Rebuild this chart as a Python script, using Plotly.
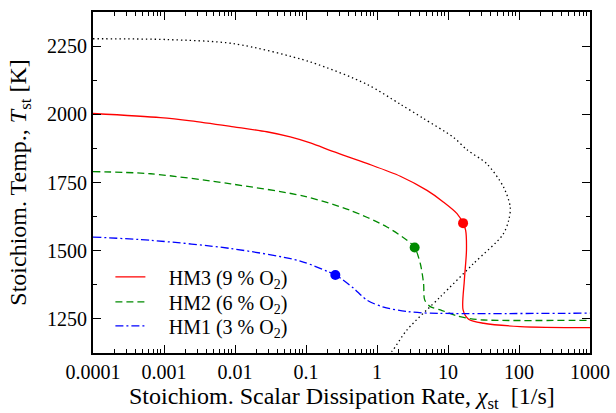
import plotly.graph_objects as go

# ---- data ----
hm3_x = [0.0001, 0.00089, 0.0024, 0.0096, 0.028, 0.06, 0.115, 0.245, 0.72, 2.13, 5.06, 8.67, 13.4, 16.3, 17.7, 18.2, 17.0, 16.3, 19.5, 31.7, 104, 1000]
hm3_y = [2003, 1988, 1976, 1954, 1936, 1917, 1895, 1863, 1820, 1773, 1721, 1678, 1636, 1601, 1575, 1502, 1392, 1283, 1249, 1234, 1222, 1218]

hm2_x = [0.0001, 0.00065, 0.0087, 0.093, 0.42, 1.38, 2.65, 3.39, 4.07, 4.53, 4.7, 5.63, 7.8, 13.4, 18.2, 31.7, 1000]
hm2_y = [1790, 1782, 1745, 1700, 1648, 1587, 1538, 1512, 1453, 1380, 1319, 1295, 1283, 1261, 1253, 1246, 1245]

hm1_x = [0.0001, 0.00065, 0.0087, 0.083, 0.259, 0.307, 0.47, 0.72, 1.24, 2.65, 5.6, 1000]
hm1_y = [1550, 1538, 1508, 1462, 1411, 1399, 1362, 1319, 1293, 1277, 1271, 1271]

ref_x = [0.0001, 0.0011, 0.0096, 0.115, 0.72, 2.13, 4.5, 12, 18.5, 35.4, 60.7, 75.3, 71.5, 59, 22.9, 7.8, 2.65, 1.62, 1.11]
ref_y = [2277, 2274, 2259, 2192, 2110, 2037, 1985, 1915, 1870, 1818, 1733, 1660, 1611, 1558, 1453, 1331, 1210, 1131, 1090]

# extinction points
ext_x = [16.3, 3.39, 0.259]
ext_y = [1601, 1512, 1411]

gap = "\u00a0\u00a0\u00a0\u2006"
names = [gap + "HM3 (9 % O<sub>2</sub>)", gap + "HM2 (6 % O<sub>2</sub>)", gap + "HM1 (3 % O<sub>2</sub>)"]
colors = ["#ff0000", "#008a00", "#0000ff"]
dashes = ["solid", "7px,4px", "8px,3px,2px,3px"]
legend_ids = ["legend", "legend2", "legend3"]
legend_tops = [0.2804, 0.2073, 0.137]

x_tickvals = [0.0001, 0.001, 0.01, 0.1, 1, 10, 100, 1000]
x_ticktext = ["0.0001", "0.001", "0.01", "0.1", "1", "10", "100", "1000"]
y_tickvals = [1250, 1500, 1750, 2000, 2250]

x_title = "Stoichiom. Scalar Dissipation Rate, <i>χ</i><sub>st</sub>  [1/s]"
y_title = "Stoichiom. Temp., <i>T</i><sub>st</sub> [K]"

font_family = "Liberation Serif"

fig = go.Figure()

fig.add_trace(go.Scatter(x=ref_x, y=ref_y, mode="lines", showlegend=False,
                         line=dict(color="black", width=1.3, dash="1.4px,3px", shape="spline", smoothing=0.8)))

for xs, ys, nm, c, d, lg in zip([hm3_x, hm2_x, hm1_x], [hm3_y, hm2_y, hm1_y], names, colors, dashes, legend_ids):
    fig.add_trace(go.Scatter(x=xs, y=ys, mode="lines", name=nm, legend=lg,
                             line=dict(color=c, width=1.3, dash=d, shape="spline", smoothing=0.8)))

for i in range(3):
    fig.add_trace(go.Scatter(x=[ext_x[i]], y=[ext_y[i]], mode="markers", showlegend=False,
                             marker=dict(color=colors[i], size=10)))

legend_common = dict(x=0.035, xanchor="left", yanchor="top", itemwidth=30,
                     bgcolor="rgba(0,0,0,0)", font=dict(size=20, family=font_family))

fig.update_layout(
    width=616, height=413,
    margin=dict(l=93, r=26, t=12, b=60),
    paper_bgcolor="white", plot_bgcolor="white",
    font=dict(family=font_family, size=20, color="black"),
    showlegend=True,
    legend=dict(y=legend_tops[0], **legend_common),
    legend2=dict(y=legend_tops[1], **legend_common),
    legend3=dict(y=legend_tops[2], **legend_common),
    annotations=[dict(text=x_title, xref="paper", yref="paper", x=0.5, y=-0.1309,
                      xanchor="center", yanchor="middle", showarrow=False, borderpad=0,
                      font=dict(size=24, family=font_family, color="black"))],
)

fig.update_xaxes(type="log", range=[-4, 3], showgrid=False, zeroline=False,
                 showline=True, linecolor="black", linewidth=2, mirror="ticks",
                 ticks="inside", ticklen=8, tickwidth=1.3, tickcolor="black",
                 tickvals=x_tickvals, ticktext=x_ticktext, automargin=False,
                 minor=dict(ticks="inside", ticklen=4, tickwidth=1, tickcolor="black", dtick="D1", showgrid=False))

fig.update_yaxes(range=[1125, 2375], showgrid=False, zeroline=False,
                 showline=True, linecolor="black", linewidth=2, mirror="ticks",
                 ticks="inside", ticklen=8, tickwidth=1.3, tickcolor="black",
                 tickvals=y_tickvals, automargin=True,
                 minor=dict(ticks="inside", ticklen=4, tickwidth=1, tickcolor="black", dtick=125, showgrid=False),
                 title=dict(text=y_title, standoff=14, font=dict(size=24)))

fig.write_html("out.html", config={"displayModeBar": False},
               post_script="document.body.style.margin='0';")
